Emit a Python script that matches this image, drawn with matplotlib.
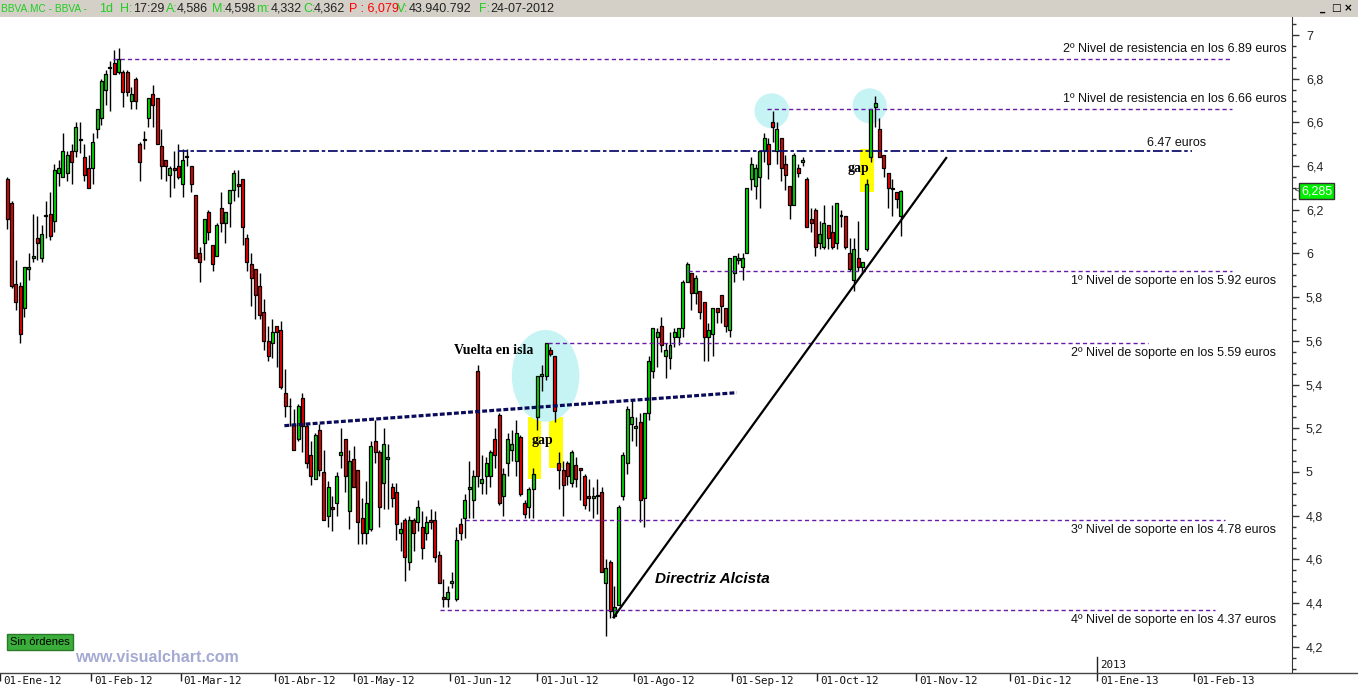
import matplotlib
matplotlib.use("Agg")
import matplotlib.pyplot as plt
from matplotlib.patches import Rectangle, Ellipse
from matplotlib.lines import Line2D
from matplotlib.ticker import MultipleLocator, FuncFormatter

plt.rcParams["lines.scale_dashes"] = False

# BBVA daily candles, 2012
opens = [6.34, 6.23, 5.86, 5.85, 5.75, 5.93, 5.98, 6.07, 5.98, 6.17,
         6.18, 6.15, 6.37, 6.35, 6.37, 6.47, 6.47, 6.52, 6.44, 6.39,
         6.39, 6.57, 6.62, 6.75, 6.85, 6.87, 6.83, 6.83, 6.83, 6.70,
         6.80, 6.50, 6.52, 6.62, 6.73, 6.71, 6.49, 6.43, 6.36, 6.39,
         6.40, 6.32, 6.44, 6.40, 6.27, 6.00, 6.05, 6.19, 6.04, 5.99,
         6.21, 6.14, 6.23, 6.29, 6.32, 6.34, 6.07, 5.95, 5.93, 5.85,
         5.73, 5.60, 5.59, 5.67, 5.65, 5.36, 5.30, 5.22, 5.15, 5.34,
         5.21, 5.08, 4.97, 5.19, 5.00, 4.80, 4.84, 4.86, 5.08, 5.15,
         4.82, 5.06, 5.01, 4.79, 4.72, 4.74, 5.14, 5.09, 4.95, 5.06,
         4.93, 4.91, 4.72, 4.78, 4.59, 4.78, 4.77, 4.75, 4.72, 4.78,
         4.78, 4.62, 4.43, 4.42, 4.49, 4.42, 4.76, 4.79, 4.92, 4.87,
         5.46, 4.95, 4.98, 4.98, 5.15, 5.26, 4.89, 5.04, 5.10, 5.05,
         5.16, 4.86, 4.84, 4.92, 5.25, 5.44, 5.44, 5.56, 5.53, 5.04,
         5.01, 5.04, 4.95, 5.03, 5.02, 4.98, 4.89, 4.88, 4.89, 4.91,
         4.49, 4.586, 4.34, 4.39, 4.89, 5.04, 5.22, 5.20, 5.23, 4.88,
         5.27, 5.46, 5.62, 5.67, 5.53, 5.52, 5.62, 5.62, 5.66, 5.87,
         5.91, 5.82, 5.83, 5.78, 5.62, 5.63, 5.75, 5.81, 5.75, 5.65,
         5.91, 5.97, 5.94, 6.00, 6.34, 6.31, 6.35, 6.47, 6.50, 6.60,
         6.47, 6.53, 6.41, 6.31, 6.22, 6.39, 6.42, 6.34, 6.16, 6.20,
         6.05, 6.03, 6.13, 6.10, 6.05, 6.17, 6.17, 6.00, 5.88, 5.98,
         5.94, 6.02, 6.44, 6.67, 6.57, 6.45, 6.37, 6.295, 6.28, 6.17]
highs = [6.35, 6.24, 5.97, 5.87, 5.94, 6.00, 6.18, 6.17, 6.13, 6.24,
         6.28, 6.41, 6.43, 6.55, 6.47, 6.50, 6.60, 6.60, 6.50, 6.45,
         6.55, 6.66, 6.80, 6.84, 6.88, 6.93, 6.94, 6.84, 6.84, 6.76,
         6.81, 6.51, 6.56, 6.71, 6.77, 6.71, 6.57, 6.43, 6.40, 6.47,
         6.50, 6.48, 6.48, 6.40, 6.27, 6.03, 6.16, 6.20, 6.04, 6.14,
         6.28, 6.19, 6.29, 6.38, 6.38, 6.34, 6.09, 6.00, 5.93, 5.91,
         5.79, 5.67, 5.70, 5.67, 5.69, 5.47, 5.34, 5.29, 5.31, 5.36,
         5.22, 5.14, 5.18, 5.22, 5.10, 4.96, 4.89, 5.00, 5.20, 5.15,
         5.10, 5.12, 5.01, 4.88, 4.96, 5.14, 5.24, 5.10, 5.20, 5.13,
         4.95, 4.95, 4.77, 4.79, 4.80, 4.79, 4.87, 4.82, 4.80, 4.83,
         4.82, 4.64, 4.51, 4.48, 4.54, 4.75, 4.79, 4.90, 5.05, 5.01,
         5.49, 5.08, 5.07, 5.10, 5.20, 5.27, 5.02, 5.18, 5.19, 5.24,
         5.17, 4.87, 4.93, 5.02, 5.44, 5.49, 5.59, 5.57, 5.53, 5.09,
         5.05, 5.05, 5.10, 5.07, 5.02, 4.99, 4.97, 4.93, 4.97, 4.93,
         4.60, 4.598, 4.48, 4.85, 5.09, 5.30, 5.33, 5.25, 5.27, 5.27,
         5.53, 5.66, 5.66, 5.71, 5.59, 5.64, 5.66, 5.66, 5.88, 5.96,
         5.91, 5.90, 5.83, 5.78, 5.68, 5.75, 5.75, 5.81, 5.75, 5.98,
         5.99, 6.00, 6.00, 6.30, 6.44, 6.41, 6.47, 6.55, 6.53, 6.65,
         6.60, 6.53, 6.45, 6.31, 6.46, 6.41, 6.44, 6.35, 6.21, 6.21,
         6.15, 6.22, 6.13, 6.22, 6.23, 6.20, 6.17, 6.07, 6.07, 6.15,
         5.96, 6.34, 6.66, 6.72, 6.62, 6.45, 6.37, 6.34, 6.28, 6.29]
lows = [6.11, 5.84, 5.74, 5.59, 5.71, 5.88, 5.96, 5.97, 5.96, 6.07,
        6.06, 6.10, 6.31, 6.35, 6.33, 6.32, 6.44, 6.46, 6.33, 6.30,
        6.32, 6.53, 6.59, 6.68, 6.65, 6.82, 6.82, 6.67, 6.72, 6.66,
        6.66, 6.33, 6.48, 6.58, 6.58, 6.50, 6.34, 6.33, 6.26, 6.30,
        6.34, 6.26, 6.40, 6.28, 5.98, 5.87, 5.97, 6.06, 5.92, 5.99,
        6.10, 6.05, 6.12, 6.24, 6.26, 6.04, 5.92, 5.76, 5.70, 5.70,
        5.56, 5.51, 5.52, 5.48, 5.38, 5.25, 5.21, 5.10, 5.14, 5.09,
        5.02, 4.94, 4.97, 4.98, 4.78, 4.75, 4.73, 4.80, 5.02, 4.91,
        4.74, 4.93, 4.67, 4.67, 4.67, 4.73, 5.04, 4.75, 4.83, 4.83,
        4.84, 4.69, 4.64, 4.50, 4.55, 4.64, 4.73, 4.60, 4.69, 4.74,
        4.59, 4.49, 4.38, 4.38, 4.47, 4.41, 4.69, 4.70, 4.79, 4.79,
        4.93, 4.90, 4.90, 4.93, 5.02, 4.85, 4.80, 4.98, 5.05, 4.98,
        4.89, 4.79, 4.79, 4.79, 5.19, 5.37, 5.42, 5.53, 5.23, 4.92,
        4.80, 4.94, 4.93, 4.93, 4.87, 4.83, 4.82, 4.79, 4.81, 4.54,
        4.25, 4.332, 4.33, 4.39, 4.87, 4.99, 5.14, 5.12, 4.77, 4.75,
        5.24, 5.43, 5.48, 5.55, 5.43, 5.47, 5.57, 5.58, 5.62, 5.87,
        5.74, 5.77, 5.70, 5.51, 5.51, 5.53, 5.68, 5.68, 5.64, 5.62,
        5.87, 5.95, 5.88, 6.00, 6.29, 6.25, 6.21, 6.42, 6.34, 6.51,
        6.41, 6.33, 6.29, 6.16, 6.22, 6.35, 6.40, 6.12, 6.10, 5.99,
        6.02, 6.02, 6.02, 6.02, 6.02, 6.12, 6.02, 5.92, 5.83, 5.92,
        5.91, 6.01, 6.42, 6.58, 6.44, 6.35, 6.21, 6.17, 6.21, 6.08]
closes = [6.16, 5.85, 5.78, 5.63, 5.94, 5.94, 5.99, 6.05, 6.09, 6.17,
          6.08, 6.38, 6.39, 6.47, 6.45, 6.42, 6.58, 6.52, 6.36, 6.30,
          6.51, 6.66, 6.79, 6.82, 6.85, 6.82, 6.89, 6.74, 6.74, 6.73,
          6.70, 6.42, 6.52, 6.71, 6.68, 6.50, 6.40, 6.40, 6.39, 6.38,
          6.35, 6.43, 6.44, 6.32, 5.98, 5.96, 6.16, 6.10, 5.95, 6.13,
          6.14, 6.19, 6.29, 6.37, 6.31, 6.12, 5.96, 5.89, 5.81, 5.72,
          5.60, 5.53, 5.64, 5.64, 5.39, 5.30, 5.30, 5.10, 5.30, 5.21,
          5.04, 4.98, 5.17, 5.01, 4.78, 4.93, 4.83, 4.98, 5.09, 4.98,
          5.05, 4.93, 4.77, 4.72, 4.86, 5.12, 5.09, 4.84, 5.13, 5.07,
          4.88, 4.76, 4.74, 4.61, 4.78, 4.72, 4.84, 4.65, 4.77, 4.77,
          4.61, 4.49, 4.42, 4.45, 4.50, 4.69, 4.72, 4.87, 4.93, 4.98,
          4.98, 4.97, 5.04, 5.09, 5.08, 4.86, 4.99, 5.15, 5.13, 5.18,
          4.90, 4.81, 4.92, 4.99, 5.44, 5.45, 5.59, 5.54, 5.28, 5.01,
          4.94, 4.98, 5.09, 4.97, 5.01, 4.85, 4.88, 4.89, 4.89, 4.54,
          4.56, 4.362, 4.38, 4.84, 5.08, 5.29, 5.25, 5.21, 4.87, 5.27,
          5.51, 5.66, 5.64, 5.58, 5.56, 5.58, 5.64, 5.66, 5.87, 5.95,
          5.82, 5.89, 5.73, 5.62, 5.65, 5.75, 5.73, 5.76, 5.67, 5.98,
          5.99, 5.98, 5.98, 6.30, 6.41, 6.39, 6.47, 6.53, 6.41, 6.58,
          6.57, 6.39, 6.36, 6.22, 6.45, 6.37, 6.43, 6.12, 6.14, 6.03,
          6.09, 6.14, 6.07, 6.03, 6.23, 6.17, 6.03, 5.93, 6.02, 5.94,
          5.96, 6.32, 6.66, 6.69, 6.44, 6.39, 6.30, 6.30, 6.25, 6.285]

month_labels = ["01-Ene-12", "01-Feb-12", "01-Mar-12", "01-Abr-12", "01-May-12",
                "01-Jun-12", "01-Jul-12", "01-Ago-12", "01-Sep-12", "01-Oct-12",
                "01-Nov-12", "01-Dic-12", "01-Ene-13", "01-Feb-13"]
month_pos = [-1.7, 19.5, 40.5, 62.5, 81.0, 103.5, 124.0, 146.5, 169.5, 189.5,
             212.5, 234.5, 255.0, 277.5]

# horizontal support / resistance levels
level_price = [6.89, 6.66, 5.92, 5.59, 4.78, 4.37]
level_from = [24.7, 177.7, 159.2, 126.4, 107.0, 101.2]
level_to = [286.5, 286.5, 286.5, 266.8, 284.8, 282.5]
level_text = ["2º Nivel de resistencia en los 6.89 euros",
              "1º Nivel de resistencia en los 6.66 euros",
              "1º Nivel de soporte en los 5.92 euros",
              "2º Nivel de soporte en los 5.59 euros",
              "3º Nivel de soporte en los 4.78 euros",
              "4º Nivel de soporte en los 4.37 euros"]
pivot_price = 6.47
trend_x, trend_y = [141.8, 219.6], [4.335, 6.437]
neck_x, neck_y = [64.8, 170.6], [5.212, 5.363]
last_close = 6.285

W, H = 1358, 693
fig = plt.figure(figsize=(W / 100, H / 100), dpi=100)
ax = fig.add_axes([0, 20 / H, 1292 / W, 656 / H])
ax.set_xlim(-1.73, 300.5)
ax.set_ylim(4.080, 7.0824)
for s in ("left", "top", "bottom"):
    ax.spines[s].set_visible(False)
ax.spines["right"].set_color("#333333")

# highlight shapes (behind the candles)
for x0, x1, y0, y1 in [(121.7, 124.8, 4.967, 5.253), (126.7, 130.0, 5.020, 5.253),
                       (199.4, 202.7, 6.283, 6.478)]:
    ax.add_patch(Rectangle((x0, y0), x1 - x0, y1 - y0, facecolor="#ffff00",
                           edgecolor="none", zorder=1))
for cx, cy, w, h in [(125.9, 5.440, 15.8, 0.42), (178.8, 6.653, 8.1, 0.16),
                     (201.7, 6.676, 8.0, 0.16)]:
    ax.add_patch(Ellipse((cx, cy), w, h, facecolor="#c6f4f4", edgecolor="none", zorder=1.5))

# candles
idx = list(range(len(closes)))
ax.vlines(idx, lows, highs, color="black", lw=1.0, zorder=3)
for i, o, c in zip(idx, opens, closes):
    col = "#00dd00" if c > o else "#ee0000" if c < o else "black"
    lo, hi = min(o, c), max(o, c)
    ax.add_patch(Rectangle((i - 0.35, lo), 0.7, max(hi - lo, 0.004), facecolor=col,
                           edgecolor="black", lw=0.9, zorder=4))

# levels
for p, x0, x1, txt in zip(level_price, level_from, level_to, level_text):
    ax.plot([x0, x1], [p, p], color="#6a1aa8", lw=1, ls=(0, (3, 2.2)), zorder=5)
    above = p > 6.5
    right = 299.3 if above else 296.7
    ax.annotate(txt, (right, p), xytext=(0, 10 if above else -10), textcoords="offset pixels",
                ha="right", va="center", fontsize=9, family="Liberation Sans", color="#111111")
ax.plot([39.9, 277.1], [pivot_price, pivot_price], color="#10106e", lw=1.3,
        ls=(0, (7, 2, 2.5, 2)), zorder=5)
ax.annotate("6.47 euros", (280.4, pivot_price), xytext=(0, 8), textcoords="offset pixels",
            ha="right", va="center", fontsize=9, family="Liberation Sans", color="#111111")
ax.plot(neck_x, neck_y, color="#0a0a5a", lw=2.3, ls=(0, (3.5, 1.6)), zorder=5)
ax.plot(trend_x, trend_y, color="black", lw=1.6, zorder=5)

ax.text(125.2, 5.142, "gap", ha="center", va="center", fontsize=10, family="Liberation Serif",
        fontweight="bold", zorder=6)
ax.text(199.2, 6.391, "gap", ha="center", va="center", fontsize=10, family="Liberation Serif",
        fontweight="bold", zorder=6)
ax.text(113.8, 5.558, "Vuelta en isla", ha="center", va="center", fontsize=10,
        family="Liberation Serif", fontweight="bold", zorder=6)
ax.text(165.0, 4.510, "Directriz Alcista", ha="center", va="center", fontsize=11,
        family="Liberation Sans", fontweight="bold", style="italic", zorder=6)

# price axis on the right
ax.yaxis.tick_right()
ax.yaxis.set_major_locator(MultipleLocator(0.2))
ax.yaxis.set_minor_locator(MultipleLocator(0.05))
ax.yaxis.set_major_formatter(FuncFormatter(
    lambda v, _: (f"{v:.1f}".rstrip("0").rstrip(".")).replace(".", ",")))
ax.tick_params(axis="y", which="major", direction="out", length=5, width=1, color="#333333",
               labelsize=9, labelcolor="#222222", pad=5)
ax.tick_params(axis="y", which="minor", direction="out", length=3, width=1, color="#333333")
for t in ax.get_yticklabels():
    t.set_family("Liberation Sans")

# date axis
ax.set_xticks(month_pos)
ax.tick_params(axis="x", direction="out", length=6, width=1, color="#222222", labelbottom=False)
for pos, lab in zip(month_pos, month_labels):
    ax.annotate(lab, (max(pos, -1.73), 0), xycoords=("data", "axes fraction"),
                xytext=(3, -3), textcoords="offset pixels", ha="left", va="top",
                fontsize=7.8, family="DejaVu Sans Mono", color="#111111")
ax.plot([month_pos[12], month_pos[12]], [4.080, 4.080 + 16 / 218.5], color="#222222",
        lw=1, clip_on=False)
ax.annotate("2013", (month_pos[12], 4.080), xytext=(3, 3), textcoords="offset pixels",
            ha="left", va="bottom", fontsize=7.8, family="DejaVu Sans Mono", color="#111111")

fig.add_artist(Line2D([0, 1], [20 / H, 20 / H], color="#444444", lw=1))

# header bar
fig.add_artist(Rectangle((0, 1 - 17 / H), 1, 17 / H, transform=fig.transFigure,
                         facecolor="#d4d0c8", edgecolor="none"))
green, dark, red = "#22cc22", "#222222", "#ff0000"
header = [(1, "BBVA.MC - BBVA -", green, 7.3), (99, "1d", green, 9), (120, "H:", green, 9),
          (133, "17:29", dark, 9), (166, "A:", green, 9), (177, "4,586", dark, 9),
          (212, "M:", green, 9), (225, "4,598", dark, 9), (256, "m:", green, 9),
          (271, "4,332", dark, 9), (303, "C:", green, 9), (314, "4,362", dark, 9),
          (349, "P : 6,079", red, 9), (397, "V:", green, 9), (409, "43.940.792", dark, 9),
          (479, "F:", green, 9), (490, "24-07-2012", dark, 9)]
for px, txt, col, fs in header:
    fig.text(px / W, 1 - 8.5 / H, txt, color=col, fontsize=fs, family="Liberation Sans",
             ha="left", va="center")
for px, sym in [(1323, "_"), (1336, "□"), (1348, "×")]:
    fig.text(px / W, 1 - 8 / H, sym, fontsize=7.5, fontweight="bold", color="black",
             ha="center", va="center")

# last price tag
fig.text(1294 / W, 1 - 190 / H, "<", fontsize=7, color="#444444", ha="left", va="center")
fig.text(1301 / W, 1 - 191 / H, f"{last_close:.3f}".replace(".", ","), fontsize=9,
         family="Liberation Sans", color="white", ha="left", va="center",
         bbox=dict(boxstyle="square,pad=0.15", facecolor="#00ee00", edgecolor="#333333", lw=1))

# bottom-left badges
fig.text(10 / W, 1 - 642 / H, "Sin órdenes", fontsize=8, family="Liberation Sans",
         color="black", ha="left", va="center",
         bbox=dict(boxstyle="square,pad=0.25", facecolor="#3aad3a", edgecolor="#2a7a2a", lw=1))
fig.text(75 / W, 1 - 657 / H, "www.visualchart.com", fontsize=11.5, fontweight="bold",
         family="Liberation Sans", color="#a4aad2", ha="left", va="center")

fig.savefig("out.png", dpi=100, facecolor="white")
